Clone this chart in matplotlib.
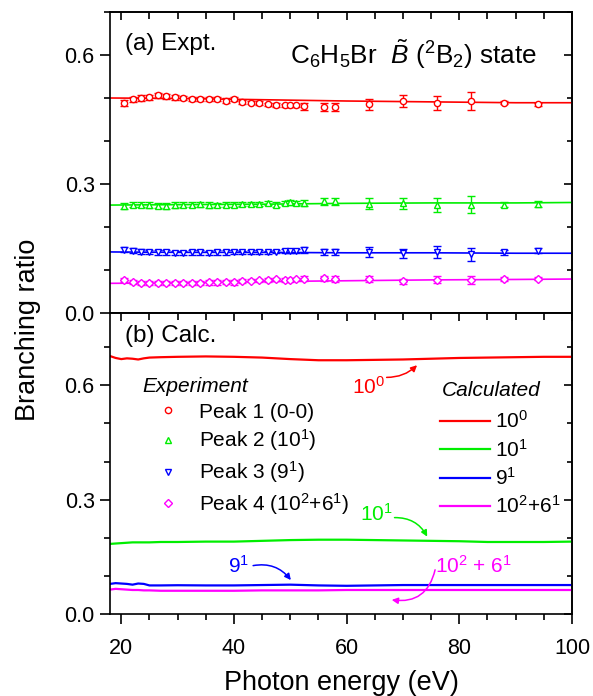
import matplotlib
matplotlib.use("Agg")
import matplotlib.pyplot as plt
from matplotlib.ticker import MultipleLocator
from matplotlib.lines import Line2D

plt.rcParams['font.family'] = ['Liberation Sans', 'DejaVu Sans']
plt.rcParams['mathtext.fontset'] = 'custom'
plt.rcParams['mathtext.rm'] = 'Liberation Sans'
plt.rcParams['mathtext.it'] = 'Liberation Sans:italic'
plt.rcParams['mathtext.bf'] = 'Liberation Sans:bold'

# ---------------- data ----------------
x_expt = [20.5, 22, 23.5, 25, 26.5, 28, 29.5, 31, 32.5, 34, 35.5, 37, 38.5, 40,
          41.5, 43, 44.5, 46, 47.5, 49, 50, 51, 52.5,
          56, 58, 64, 70, 76, 82, 88, 94]

peak1 = [0.489, 0.497, 0.500, 0.502, 0.506, 0.504, 0.502, 0.500, 0.498, 0.497, 0.497, 0.498, 0.494, 0.497,
         0.491, 0.489, 0.488, 0.485, 0.484, 0.483, 0.483, 0.483, 0.481,
         0.479, 0.479, 0.485, 0.493, 0.488, 0.493, 0.489, 0.485]
peak1_err = [0.007, 0.006, 0.006, 0.006, 0.006, 0.006, 0.006, 0.005, 0.005, 0.005, 0.005, 0.005, 0.005, 0.005,
             0.004, 0.004, 0.004, 0.004, 0.004, 0.004, 0.004, 0.004, 0.008,
             0.009, 0.009, 0.013, 0.013, 0.017, 0.020, 0.004, 0.004]

peak2 = [0.249, 0.252, 0.252, 0.251, 0.250, 0.249, 0.251, 0.252, 0.252, 0.253, 0.251, 0.251, 0.252, 0.252,
         0.253, 0.253, 0.254, 0.256, 0.252, 0.256, 0.257, 0.256, 0.255,
         0.260, 0.260, 0.254, 0.255, 0.252, 0.252, 0.252, 0.254]
peak2_err = [0.006, 0.006, 0.006, 0.006, 0.006, 0.006, 0.006, 0.006, 0.006, 0.006, 0.006, 0.005, 0.005, 0.005,
             0.005, 0.005, 0.005, 0.005, 0.006, 0.005, 0.005, 0.005, 0.007,
             0.008, 0.008, 0.013, 0.013, 0.016, 0.019, 0.005, 0.007]

peak3 = [0.147, 0.145, 0.143, 0.142, 0.141, 0.141, 0.140, 0.140, 0.141, 0.141, 0.140, 0.141, 0.141, 0.142,
         0.141, 0.142, 0.142, 0.141, 0.143, 0.144, 0.144, 0.144, 0.146,
         0.142, 0.142, 0.142, 0.139, 0.141, 0.137, 0.141, 0.145]
peak3_err = [0.006, 0.006, 0.005, 0.005, 0.005, 0.005, 0.005, 0.005, 0.005, 0.005, 0.005, 0.005, 0.005, 0.005,
             0.004, 0.004, 0.004, 0.004, 0.004, 0.004, 0.004, 0.004, 0.007,
             0.008, 0.008, 0.011, 0.011, 0.014, 0.015, 0.005, 0.006]

peak4 = [0.077, 0.072, 0.070, 0.069, 0.069, 0.069, 0.069, 0.070, 0.070, 0.070, 0.071, 0.071, 0.072, 0.071,
         0.074, 0.075, 0.076, 0.077, 0.078, 0.077, 0.077, 0.078, 0.080,
         0.081, 0.079, 0.079, 0.0735, 0.077, 0.077, 0.079, 0.080]
peak4_err = [0.005, 0.005, 0.005, 0.005, 0.005, 0.005, 0.005, 0.005, 0.005, 0.005, 0.005, 0.005, 0.005, 0.005,
             0.004, 0.004, 0.004, 0.004, 0.004, 0.004, 0.004, 0.004, 0.006,
             0.006, 0.006, 0.007, 0.006, 0.008, 0.010, 0.004, 0.004]

x_fit = [18, 30, 45, 60, 75, 90, 100]
fit1 = [0.500, 0.499, 0.496, 0.493, 0.491, 0.489, 0.489]
fit2 = [0.251, 0.252, 0.253, 0.255, 0.256, 0.256, 0.257]
fit3 = [0.142, 0.141, 0.141, 0.140, 0.140, 0.139, 0.139]
fit4 = [0.069, 0.070, 0.073, 0.075, 0.077, 0.078, 0.079]

x_calc = [18, 19, 20, 21, 22, 23, 24, 25, 27, 30, 35, 40, 45, 50, 55, 60, 65, 70, 75, 80, 85, 90, 95, 100]
calc1 = [0.677, 0.672, 0.669, 0.671, 0.670, 0.668, 0.671, 0.673, 0.674, 0.675, 0.676, 0.675, 0.673, 0.669,
         0.666, 0.666, 0.667, 0.668, 0.670, 0.672, 0.673, 0.674, 0.675, 0.675]
calc2 = [0.184, 0.185, 0.186, 0.187, 0.188, 0.188, 0.188, 0.188, 0.189, 0.189, 0.190, 0.190, 0.192, 0.194,
         0.195, 0.195, 0.194, 0.193, 0.192, 0.191, 0.189, 0.189, 0.189, 0.190]
calc3 = [0.079, 0.081, 0.080, 0.079, 0.077, 0.080, 0.079, 0.075, 0.075, 0.0755, 0.075, 0.075, 0.076, 0.077,
         0.075, 0.074, 0.075, 0.076, 0.076, 0.076, 0.076, 0.076, 0.076, 0.076]
calc4 = [0.064, 0.066, 0.065, 0.064, 0.063, 0.063, 0.062, 0.062, 0.061, 0.061, 0.061, 0.061, 0.062, 0.062,
         0.062, 0.063, 0.063, 0.063, 0.063, 0.063, 0.063, 0.063, 0.063, 0.063]

expt_labels = ['Peak 1 (0-0)', 'Peak 2 (10$^1$)', 'Peak 3 (9$^1$)', 'Peak 4 (10$^2$+6$^1$)']
calc_labels = ['10$^0$', '10$^1$', '9$^1$', '10$^2$+6$^1$']
annot_labels = ['10$^0$', '10$^1$', '9$^1$', '10$^2$ + 6$^1$']
colors = ['#FF0000', '#00EE00', '#0000FF', '#FF00FF']
markers = ['o', '^', 'v', 'D']
msizes = [4.5, 5.0, 5.0, 4.0]

# ---------------- figure ----------------
W, H = 593, 696
fig = plt.figure(figsize=(W / 100, H / 100), dpi=100)
L, R = 110 / W, 572 / W
ax1 = fig.add_axes([L, 1 - 313 / H, R - L, (313 - 12) / H])
ax2 = fig.add_axes([L, 1 - 614 / H, R - L, (614 - 313) / H], sharex=ax1)

# top panel
peaks = [peak1, peak2, peak3, peak4]
errs = [peak1_err, peak2_err, peak3_err, peak4_err]
fits = [fit1, fit2, fit3, fit4]
for p, e, f, c, m, ms in zip(peaks, errs, fits, colors, markers, msizes):
    ax1.plot(x_fit, f, color=c, lw=1.2, zorder=2)
    ax1.errorbar(x_expt, p, yerr=e, fmt=m, ms=ms, mfc='white', mec=c, mew=1.0,
                 ecolor=c, elinewidth=1.0, capsize=3, capthick=1.0, zorder=3)

# bottom panel
calcs = [calc1, calc2, calc3, calc4]
for cv, c in zip(calcs, colors):
    ax2.plot(x_calc, cv, color=c, lw=1.6)

ax1.set_xlim(18, 100)
ax1.set_ylim(0, 0.70)
ax2.set_ylim(0, 0.79)

for ax in (ax1, ax2):
    for s in ax.spines.values():
        s.set_linewidth(1.2)
    ax.yaxis.set_major_locator(MultipleLocator(0.3))
    ax.yaxis.set_minor_locator(MultipleLocator(0.1))
    ax.xaxis.set_major_locator(MultipleLocator(20))
    ax.xaxis.set_minor_locator(MultipleLocator(5))
    ax.tick_params(which='major', direction='out', length=7, width=1.2, labelsize=15.5,
                   top=False, right=False)
    ax.tick_params(axis='y', which='major', pad=4)
    ax.tick_params(axis='x', which='major', pad=10)
    ax.tick_params(which='minor', direction='out', length=4, width=1.2, top=False, right=False)
    sy = ax.secondary_yaxis('right')
    sy.yaxis.set_major_locator(MultipleLocator(0.3))
    sy.yaxis.set_minor_locator(MultipleLocator(0.1))
    sy.tick_params(which='major', direction='in', length=6, width=1.2, labelright=False)
    sy.tick_params(which='minor', direction='in', length=3.5, width=1.2, labelright=False)
    sy.spines['right'].set_linewidth(1.2)
    sx = ax.secondary_xaxis('top')
    sx.xaxis.set_major_locator(MultipleLocator(20))
    sx.xaxis.set_minor_locator(MultipleLocator(5))
    sx.tick_params(which='major', direction='in', length=6, width=1.2, labeltop=False)
    sx.tick_params(which='minor', direction='in', length=5, width=1.2, labeltop=False)
    sx.spines['top'].set_linewidth(1.2)

ax1.tick_params(axis='x', which='both', bottom=False, labelbottom=False)
ax1.set_yticks([0.0, 0.3, 0.6])
ax1.set_yticklabels(['0.0', '0.3', '0.6'])
ax2.set_yticks([0.0, 0.3, 0.6])
ax2.set_yticklabels(['0.0', '0.3', '0.6'])
ax2.set_xticks([20, 40, 60, 80, 100])

# texts
ax1.text(0.033, 0.895, '(a) Expt.', transform=ax1.transAxes, fontsize=17.5, va='center', ha='left')
ax1.text(0.925, 0.86, r'C$_6$H$_5$Br  $\tilde{B}$ ($^2$B$_2$) state', transform=ax1.transAxes,
         fontsize=18.8, va='center', ha='right')
ax2.text(0.033, 0.922, '(b) Calc.', transform=ax2.transAxes, fontsize=17.5, va='center', ha='left')

fig.text(28 / W, 1 - 330 / H, 'Branching ratio', rotation=90, fontsize=19.5, ha='center', va='center')
fig.text(341 / W, 1 - 683 / H, 'Photon energy (eV)', fontsize=19.5, ha='center', va='center')

# annotations: label positions, arrow starts, arrow tips (data coords)
annot_text_xy = [(63.9, 0.597), (65.3, 0.262), (40.9, 0.126), (82.5, 0.126)]
arrow_start = [(67.1, 0.621), (68.5, 0.253), (43.4, 0.127), (75.7, 0.116)]
arrow_tip = [(72.5, 0.653), (74.3, 0.203), (50.1, 0.089), (68.0, 0.037)]
arrow_rad = [0.2, -0.3, -0.3, -0.45]
for lab, txy, a0, a1, rad, c in zip(annot_labels, annot_text_xy, arrow_start, arrow_tip, arrow_rad, colors):
    ax2.text(txy[0], txy[1], lab, color=c, fontsize=15, ha='center', va='center')
    ax2.annotate('', xy=a1, xytext=a0,
                 arrowprops=dict(arrowstyle='-|>', color=c, lw=1.1, mutation_scale=9,
                                 shrinkA=0, shrinkB=0, connectionstyle=f'arc3,rad={rad}'))

# legends (titles drawn as separate italic text)
ax2.text(0.069, 0.755, 'Experiment', transform=ax2.transAxes, fontsize=15, style='italic',
         ha='left', va='center')
eh = [Line2D([], [], ls='none', marker=m, ms=ms, mfc='white', mec=c, mew=1.0)
      for m, c, ms in zip(markers, colors, msizes)]
leg1 = ax2.legend(eh, expt_labels, loc='upper left', bbox_to_anchor=(0.069, 0.702),
                  frameon=False, fontsize=15, handlelength=2.5, handletextpad=0.25,
                  labelspacing=0.28, borderpad=0, borderaxespad=0)
ax2.add_artist(leg1)

ax2.text(0.719, 0.742, 'Calculated', transform=ax2.transAxes, fontsize=15, style='italic',
         ha='left', va='center')
ch = [Line2D([], [], color=c, lw=1.6) for c in colors]
leg2 = ax2.legend(ch, calc_labels, loc='upper left', bbox_to_anchor=(0.714, 0.677),
                  frameon=False, fontsize=15, handlelength=2.4, handletextpad=0.25,
                  labelspacing=0.31, borderpad=0, borderaxespad=0)

fig.savefig('out.png', dpi=100)
